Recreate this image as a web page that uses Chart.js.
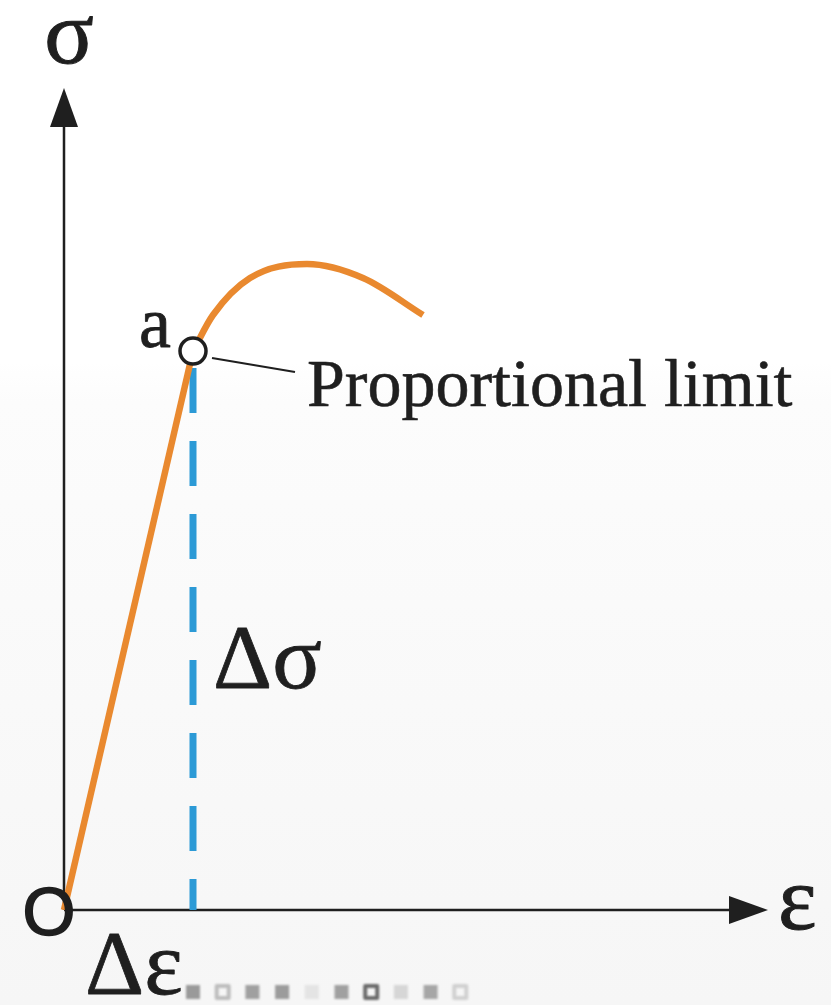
<!DOCTYPE html>
<html>
<head>
<meta charset="utf-8">
<script src="https://cdn.jsdelivr.net/npm/chart.js@4.4.0/dist/chart.umd.min.js"></script>
<style>
  html, body { margin: 0; padding: 0; background: #fff; }
  canvas { display: block; }
</style>
</head>
<body>
<canvas id="stress-strain" width="831" height="1005"></canvas>
<script>
// elastic (straight) part: strain, stress
const elasticStrain = [0, 1.29];
const elasticStress = [0, 5.59];
// past the proportional limit
const plasticStrain = [1.29, 1.49, 1.86, 2.43, 2.99, 3.59];
const plasticStress = [5.59, 5.95, 6.32, 6.46, 6.32, 5.95];
// proportional limit "a"
const limitStrain = 1.29;
const limitStress = 5.59;

const axisLabels = { x: "ε", y: "σ", origin: "O" };
const markLabels = { point: "a", note: "Proportional limit", dStress: "Δσ", dStrain: "Δε" };

const INK = "#1f1f1f";
const ORANGE = "#e9892f";
const BLUE = "#2c9ad6";
const SERIF = "'Liberation Serif', 'DejaVu Serif', serif";

const toPoints = (xs, ys) => xs.map((x, i) => ({ x, y: ys[i] }));

const backdrop = {
  id: "backdrop",
  beforeDraw(chart) {
    const { ctx, width, height } = chart;
    const g = ctx.createLinearGradient(0, 0, 0, height);
    g.addColorStop(0, "#ffffff");
    g.addColorStop(0.36, "#ffffff");
    g.addColorStop(0.4, "#fcfcfc");
    g.addColorStop(1, "#f6f6f6");
    ctx.save();
    ctx.fillStyle = g;
    ctx.fillRect(0, 0, width, height);
    ctx.restore();
  }
};

function arrowHead(ctx, tipX, tipY, dir) {
  const len = 39, half = 14;
  ctx.beginPath();
  if (dir === "up") {
    ctx.moveTo(tipX, tipY);
    ctx.lineTo(tipX - half, tipY + len);
    ctx.lineTo(tipX + half, tipY + len);
  } else {
    ctx.moveTo(tipX, tipY);
    ctx.lineTo(tipX - len, tipY - half);
    ctx.lineTo(tipX - len, tipY + half);
  }
  ctx.closePath();
  ctx.fill();
}

// axes with arrow heads, drawn under the curves
const arrowAxes = {
  id: "arrowAxes",
  beforeDatasetsDraw(chart) {
    const { ctx, chartArea, scales } = chart;
    const x0 = scales.x.getPixelForValue(0);
    const y0 = scales.y.getPixelForValue(0);
    ctx.save();
    ctx.strokeStyle = INK;
    ctx.fillStyle = INK;
    ctx.lineWidth = 2.5;
    ctx.beginPath();
    ctx.moveTo(x0, y0);
    ctx.lineTo(x0, chartArea.top + 30);
    ctx.moveTo(x0, y0);
    ctx.lineTo(chartArea.right - 30, y0);
    ctx.stroke();
    arrowHead(ctx, x0, chartArea.top, "up");
    arrowHead(ctx, chartArea.right, y0, "right");
    ctx.restore();
  }
};

// text filled and lightly stroked so it reads as heavy as printed type
function inkText(ctx, text, x, y, weight) {
  ctx.fillText(text, x, y);
  if (weight) {
    ctx.lineWidth = weight;
    ctx.strokeText(text, x, y);
  }
}

// labels, leader line, origin mark
const annotations = {
  id: "annotations",
  afterDatasetsDraw(chart) {
    const { ctx, chartArea, scales } = chart;
    const x0 = scales.x.getPixelForValue(0);
    const y0 = scales.y.getPixelForValue(0);
    const ax = scales.x.getPixelForValue(limitStrain);
    const ay = scales.y.getPixelForValue(limitStress);

    ctx.save();
    ctx.fillStyle = INK;
    ctx.strokeStyle = INK;
    ctx.lineJoin = "round";

    // origin
    ctx.font = "68px 'Liberation Sans', Arial, sans-serif";
    ctx.textAlign = "center";
    ctx.textBaseline = "alphabetic";
    inkText(ctx, axisLabels.origin, x0 - 15, y0 + 25, 1.6);

    // axis names
    ctx.font = "92px " + SERIF;
    inkText(ctx, axisLabels.y, x0 + 5, chartArea.top - 25, 1);
    ctx.textAlign = "left";
    inkText(ctx, axisLabels.x, chartArea.right + 10, y0 + 19, 1);

    // increments
    inkText(ctx, markLabels.dStress, ax + 20, y0 - 222, 0.8);
    inkText(ctx, markLabels.dStrain, x0 + 21, y0 + 84, 0.8);

    // point name
    ctx.font = "72px " + SERIF;
    ctx.textAlign = "right";
    inkText(ctx, markLabels.point, ax - 22, ay - 4, 0.8);

    // leader line + note
    ctx.lineWidth = 2;
    ctx.beginPath();
    ctx.moveTo(ax + 19, ay + 7);
    ctx.lineTo(ax + 102, ay + 21);
    ctx.stroke();
    ctx.font = "68px " + SERIF;
    ctx.textAlign = "left";
    inkText(ctx, markLabels.note, ax + 114, ay + 55, 0.6);

    // slide pager squares along the bottom
    const squares = ["#9a9a9a", "hollow", "#a0a0a0", "#9c9c9c", "#e4e4e4", "#a0a0a0", "hollowDark", "#d6d6d6", "#a6a6a6", "hollowLight"];
    ctx.filter = "blur(1px)";
    squares.forEach((style, i) => {
      const dx = x0 + 121 + i * 29.7, dy = y0 + 74;
      if (style.startsWith("hollow")) {
        ctx.strokeStyle = style === "hollowDark" ? "#6a6a6a" : style === "hollowLight" ? "#d0d0d0" : "#bdbdbd";
        ctx.lineWidth = 4;
        ctx.strokeRect(dx + 2, dy + 2, 12, 12);
      } else {
        ctx.fillStyle = style;
        ctx.fillRect(dx + 1, dy + 1, 14, 14);
      }
    });
    ctx.restore();
  }
};

new Chart(document.getElementById("stress-strain"), {
  type: "scatter",
  data: {
    datasets: [
      {
        label: "proportional limit",
        data: [{ x: limitStrain, y: limitStress }],
        pointRadius: 13,
        pointBorderWidth: 3.5,
        pointBackgroundColor: "#ffffff",
        pointBorderColor: INK,
        showLine: false,
        clip: false,
        order: 0
      },
      {
        label: "elastic",
        data: toPoints(elasticStrain, elasticStress),
        showLine: true,
        borderColor: ORANGE,
        borderWidth: 6.5,
        borderCapStyle: "butt",
        pointRadius: 0,
        tension: 0,
        clip: false,
        order: 1
      },
      {
        label: "plastic",
        data: toPoints(plasticStrain, plasticStress),
        showLine: true,
        borderColor: ORANGE,
        borderWidth: 6.5,
        borderCapStyle: "butt",
        pointRadius: 0,
        cubicInterpolationMode: "monotone",
        clip: false,
        order: 1
      },
      {
        label: "Δσ",
        data: [{ x: limitStrain, y: limitStress }, { x: limitStrain, y: 0 }],
        showLine: true,
        borderColor: BLUE,
        borderWidth: 7,
        borderDash: [45, 28],
        borderDashOffset: 56,
        borderCapStyle: "butt",
        pointRadius: 0,
        clip: false,
        order: 2
      }
    ]
  },
  options: {
    responsive: false,
    animation: false,
    events: [],
    layout: { padding: { left: 64, right: 63, top: 88, bottom: 95 } },
    plugins: { legend: { display: false }, tooltip: { enabled: false } },
    scales: {
      x: { type: "linear", min: 0, max: 7.04, display: false },
      y: { type: "linear", min: 0, max: 8.22, display: false }
    }
  },
  plugins: [backdrop, arrowAxes, annotations]
});
</script>
</body>
</html>
